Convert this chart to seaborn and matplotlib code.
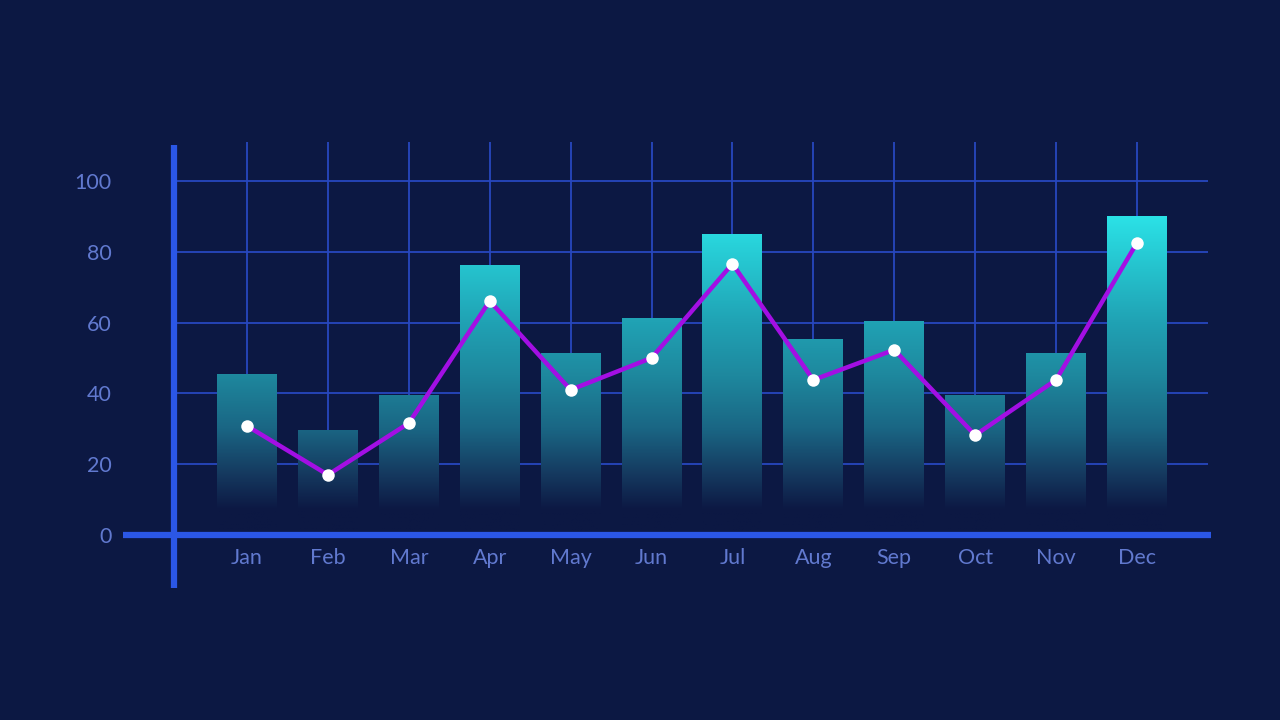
import numpy as np
import pandas as pd
import matplotlib.pyplot as plt
import seaborn as sns
from matplotlib.colors import LinearSegmentedColormap

# datos
meses = ['Jan', 'Feb', 'Mar', 'Apr', 'May', 'Jun', 'Jul', 'Aug', 'Sep', 'Oct', 'Nov', 'Dec']
barras = [45.5, 29.7, 39.5, 76.3, 51.4, 61.3, 85.0, 55.4, 60.5, 39.5, 51.4, 90.1]
linea = [30.8, 17.0, 31.6, 66.1, 41.0, 50.0, 76.6, 43.8, 52.3, 28.2, 43.8, 82.5]
yticks = [0, 20, 40, 60, 80, 100]

fondo = '#0c1843'
azul_eje = '#2b57e6'
azul_grid = '#2747bf'
azul_texto = '#6179cf'
morado = '#a30fe4'

df = pd.DataFrame({'mes': meses, 'barra': barras, 'linea': linea})

sns.set_theme(style='white')
plt.rcParams['font.family'] = ['Lato', 'DejaVu Sans']

fig = plt.figure(figsize=(12.8, 7.2), dpi=100, facecolor=fondo)
ax = fig.add_axes([123 / 1280, 132 / 720, 1088 / 1280, 446 / 720])
ax.set_facecolor(fondo)

sns.barplot(data=df, x='mes', y='barra', ax=ax, width=0.74, color='white',
            linewidth=0, zorder=2)

# degradado vertical en cada barra (según el valor absoluto)
cmap = LinearSegmentedColormap.from_list('grad', [
    (0.00, fondo),
    (0.07, fondo),
    (0.17, '#15395f'),
    (0.30, '#1a6684'),
    (0.45, '#1e889e'),
    (0.60, '#20a2b4'),
    (0.75, '#25c2cd'),
    (0.90, '#2be2e7'),
    (1.00, '#32f2f2'),
])
grad = np.linspace(0, 1, 256).reshape(-1, 1)
for p in ax.patches:
    x0 = p.get_x()
    x1 = x0 + p.get_width()
    im = ax.imshow(grad, cmap=cmap, origin='lower', aspect='auto',
                   extent=[x0, x1, 0, 100], zorder=2)
    im.set_clip_path(p)
    p.set_alpha(0)

sns.lineplot(data=df, x='mes', y='linea', ax=ax, color=morado, linewidth=3.2,
             marker='o', markersize=9, markerfacecolor='white',
             markeredgecolor='white', markeredgewidth=0, zorder=4)

ax.set_xlim(-1.533, 11.916)
ax.set_ylim(-14.97, 111.0)

# rejilla
ax.hlines(yticks[1:], -0.9, 11.88, color=azul_grid, linewidth=1.3, zorder=1)
ax.vlines(range(len(meses)), 0, 111.0, color=azul_grid, linewidth=1.3, zorder=1)

# ejes
ax.axhline(0, color=azul_eje, linewidth=4.5, zorder=3)
ax.vlines(-0.9, -14.97, 110.2, color=azul_eje, linewidth=4.5, zorder=3)

for s in ax.spines.values():
    s.set_visible(False)

ax.set_yticks(yticks)
ax.set_yticklabels([str(v) for v in yticks])
ax.tick_params(axis='y', length=0, pad=8, labelsize=15.5, labelcolor=azul_texto)
ax.set_xticks([])
ax.set_xlabel('')
ax.set_ylabel('')
for i, m in enumerate(meses):
    ax.text(i, -6.6, m, ha='center', va='center', fontsize=15.5, color=azul_texto)

fig.savefig('out.png', dpi=100, facecolor=fondo)
